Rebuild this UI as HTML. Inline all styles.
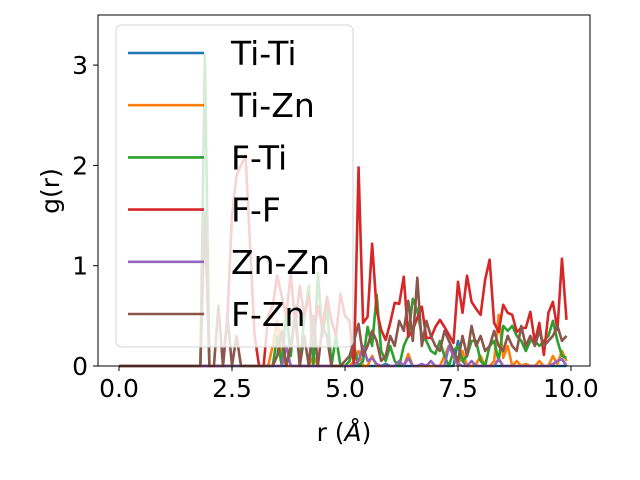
<!DOCTYPE html>
<html><head><meta charset="utf-8"><style>
body{margin:0;background:#fff;}
svg{display:block;font-family:"DejaVu Sans","Liberation Sans",sans-serif;}
</style></head><body>
<svg id="chart" width="640" height="480" viewBox="0 0 640 480">
<g id="plot"></g>
<g id="axes"></g>
<g id="legend"></g>
</svg>
<script>
const rValues = Array.from({length:100},(_,i)=>+(i*0.1).toFixed(1));
const xTicks = [0.0, 2.5, 5.0, 7.5, 10.0];
const xTickLabels = ["0.0","2.5","5.0","7.5","10.0"];
const yTicks = [0,1,2,3];
const yTickLabels = ["0","1","2","3"];
const seriesNames = ["Ti-Ti","Ti-Zn","F-Ti","F-F","Zn-Zn","F-Zn"];
const seriesColors = ["#1f77b4","#ff7f0e","#2ca02c","#d62728","#9467bd","#8c564b"];
const tiTi = [0,0,0,0,0,0,0,0,0,0, 0,0,0,0,0,0,0,0,0,0, 0,0,0,0,0,0,0,0,0,0, 0,0,0,0,0,0,0,0,0,0, 0,0,0,0,0,0,0,0,0,0,
 0,0,0,0,0,0,0,0,0,0.02, 0,0,0,0,0,0,0,0,0,0, 0,0,0,0,0,0.25,0.05,0,0,0, 0,0,0,0,0,0,0,0,0,0, 0,0,0,0,0,0,0,0,0,0];
const tiZn = [0,0,0,0,0,0,0,0,0,0, 0,0,0,0,0,0,0,0,0,0, 0,0,0,0,0,0,0,0,0,0, 0,0,0,0,0.2,0.45,0.1,0,0,0, 0,0,0,0.1,0,0,0,0,0,0,
 0,0,0.05,0.15,0,0,0.1,0,0,0, 0,0,0.05,0,0.12,0,0,0,0,0, 0,0,0.1,0.2,0.1,0,0.15,0,0,0.02, 0.1,0,0,0.05,0.51,0.08,0.2,0,0.05,0, 0.02,0,0,0.05,0,0,0.1,0.02,0.15,0.05];
const fTi = [0,0,0,0,0,0,0,0,0,0, 0,0,0,0,0,0,0,0,0,3.1, 0,0,0,0,0,0,0,0,0,0, 0,0,0,0,0,0.3,0,0.55,0.1,0.6, 0,0.5,0.8,0,0.93,0.3,0.6,0,0.3,0,
 0,0.05,0.2,0,0.05,0.39,0.2,0.71,0.15,0.05, 0.2,0.05,0,0.2,0.3,0.67,0.55,0.3,0.25,0.15, 0.12,0.25,0.1,0,0.15,0.2,0.05,0.1,0.25,0.25, 0.05,0,0.2,0.25,0.05,0.4,0.35,0.4,0.3,0.25, 0.15,0.25,0.25,0.2,0.25,0.3,0.45,0.25,0.1,0.08];
const fF = [0,0,0,0,0,0,0,0,0,0, 0,0,0,0,0,0,0,0,0,0, 0,0,0,0,0.5,1.5,1.9,2.0,2.1,1.2, 0.3,0,0,0.5,0.6,0.9,0.7,0.5,0.93,0.4, 0.8,0.5,0.7,0.3,0.6,0.4,0.69,0.45,0.3,0.72,
 0.5,0.45,0,1.98,0.43,0.49,1.22,0.56,0.36,0.26, 0.43,0.63,0.62,0.89,0.29,0.36,0.48,0.59,0.28,0.28, 0.39,0.46,0.39,0.31,0.23,0.84,0.53,0.90,0.64,0.57, 0.51,0.86,1.06,0.43,0.34,0.61,0.53,0.51,0.34,0.38, 0.38,0.54,0.24,0.43,0.11,0.53,0.64,0.36,1.07,0.46];
const znZn = [0,0,0,0,0,0,0,0,0,0, 0,0,0,0,0,0,0,0,0,0, 0,0,0,0,0,0,0,0,0,0, 0,0,0,0,0,0,0,0.2,0,0, 0,0,0,0,0,0,0,0,0,0,
 0,0,0,0.05,0.2,0.05,0.08,0.02,0,0, 0,0,0.05,0,0.08,0,0,0.02,0,0.05, 0,0,0,0.2,0.1,0.02,0,0,0.05,0, 0,0,0,0,0.07,0,0,0,0,0, 0,0,0,0,0,0,0.02,0.05,0.07,0];
const fZn = [0,0,0,0,0,0,0,0,0,0, 0,0,0,0,0,0,0,0,0,1.53, 0,0,0.6,0,0.5,0,0.3,0,0,0, 0,0,0,0,0,0.1,0.35,0,0.2,0.5, 0,0.3,0,0.5,0,0.4,0.3,0,0,0,
 0.05,0.1,0.25,0.42,0.1,0.2,0.35,0.25,0.05,0.1, 0.3,0.2,0.45,0.35,0.65,0.25,0.88,0.2,0.45,0.3, 0.2,0.15,0.35,0.25,0.15,0.05,0.3,0.1,0.4,0.2, 0.3,0.15,0.2,0.35,0.2,0.15,0.3,0.2,0.15,0.4, 0.2,0.3,0.2,0.35,0.2,0.25,0.3,0.4,0.25,0.3];
const seriesData = [tiTi,tiZn,fTi,fF,znZn,fZn];

const NS="http://www.w3.org/2000/svg";
const X0=98,X1=590,Y0=15,Y1=366;
function xScale(r){return 119 + r*45.2;}
function yScale(g){return 366 - g*100.3;}
function mk(tag,attrs,parent){const e=document.createElementNS(NS,tag);for(const k in attrs)e.setAttribute(k,attrs[k]);parent.appendChild(e);return e;}
const plot=document.getElementById('plot'),axes=document.getElementById('axes'),legend=document.getElementById('legend');

seriesData.forEach((d,si)=>{
  const pts=d.map((v,i)=>xScale(rValues[i]).toFixed(2)+','+yScale(v).toFixed(2)).join(' ');
  const pl=mk('polyline',{points:pts,fill:'none',stroke:seriesColors[si],'stroke-width':2.6,'stroke-linejoin':'round'},plot);
  
  
});

const frame=mk('rect',{x:X0,y:Y0,width:X1-X0,height:Y1-Y0,fill:'none',stroke:'#000','stroke-width':1},axes);


xTicks.forEach((t,i)=>{
  const x=xScale(t);
  const tk=mk('line',{x1:x,x2:x,y1:Y1,y2:Y1+5,stroke:'#000'},axes);
  
  
  const tx=mk('text',{x:x,y:Y1+31,'font-size':25,'text-anchor':'middle'},axes);
  tx.textContent=xTickLabels[i];
  
  
});
yTicks.forEach((t,i)=>{
  const y=yScale(t);
  const tk=mk('line',{x1:X0-5,x2:X0,y1:y,y2:y,stroke:'#000'},axes);
  
  
  const tx=mk('text',{x:X0-10,y:y+9,'font-size':25,'text-anchor':'end'},axes);
  tx.textContent=yTickLabels[i];
  
  
});
const xl=mk('text',{x:344,y:441,'font-size':25,'text-anchor':'middle'},axes);
xl.innerHTML='r (<tspan font-style="italic">Å</tspan>)';


const yl=mk('text',{x:0,y:0,'font-size':25,'text-anchor':'middle',transform:'translate(59,191) rotate(-90)'},axes);
yl.textContent='g(r)';



const lb=mk('rect',{x:116,y:25,width:237,height:322,rx:6,fill:'rgba(255,255,255,0.8)',stroke:'#d6d6d6','stroke-width':1},legend);


seriesNames.forEach((n,i)=>{
  const y=53+i*52.2;
  const g=mk('g',{},legend);
  
  
  mk('line',{x1:128,x2:204,y1:y,y2:y,stroke:seriesColors[i],'stroke-width':2.6},g);
  const t=mk('text',{x:231,y:y+12,'font-size':33},g);
  t.textContent=n;
});
</script>
</body></html>
